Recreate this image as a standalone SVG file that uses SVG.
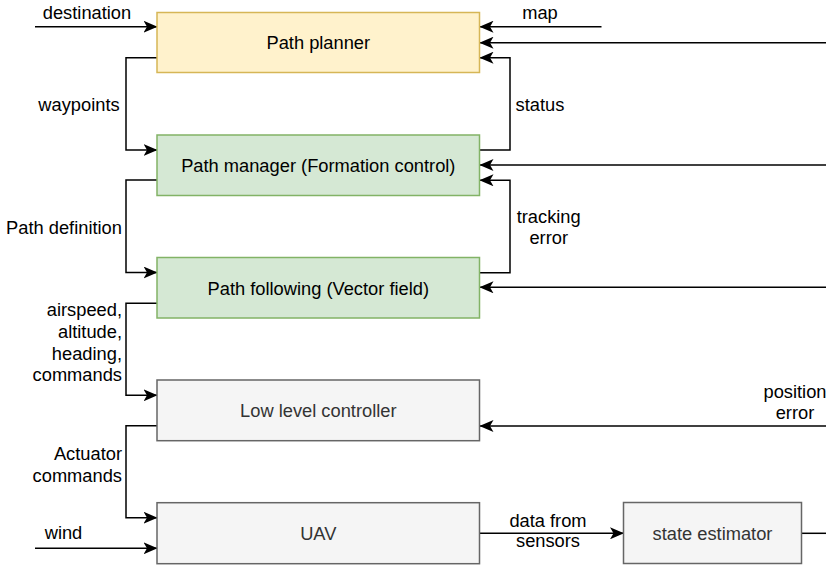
<svg xmlns="http://www.w3.org/2000/svg" width="826" height="567" viewBox="0 0 826 567">
<style>
text{font-family:"Liberation Sans",Arial,Helvetica,sans-serif;font-size:18.3px;fill:#000}
.n text{text-anchor:middle}
.yellow rect{fill:#fff2cc;stroke:#d6b656;stroke-width:1.5}
.green rect{fill:#d5e8d4;stroke:#82b366;stroke-width:1.5}
.gray rect{fill:#f5f5f5;stroke:#666666;stroke-width:1.5}
.gray text{fill:#333333}
#edges path{fill:none;stroke:#000;stroke-width:1.5}
#edges path.a{marker-end:url(#arr)}
.m{text-anchor:middle}
.e{text-anchor:end}
</style>
<defs>
<marker id="arr" viewBox="0 0 14 12" markerWidth="14" markerHeight="12" refX="13.5" refY="6" orient="auto" markerUnits="userSpaceOnUse">
<path d="M0,0 L14,6 L0,12 L3.5,6 Z" fill="#000"/>
</marker>
</defs>
<g id="edges">
<path class="a" d="M35,26.7 H157"/>
<path class="a" d="M601.5,26.7 H480"/>
<path class="a" d="M826,42.7 H480"/>
<path class="a" d="M480,150 H510 V57.7 H480"/>
<path class="a" d="M826,165 H480"/>
<path class="a" d="M480,272.7 H510 V180.3 H480"/>
<path class="a" d="M826,287.3 H480"/>
<path class="a" d="M157,57.7 H126 V150 H157"/>
<path class="a" d="M157,180 H126 V272.5 H157"/>
<path class="a" d="M157,303.3 H126 V395.3 H157"/>
<path class="a" d="M157,425.7 H126 V517.7 H157"/>
<path class="a" d="M35,548.3 H157"/>
<path class="a" d="M826,426 H480"/>
<path class="a" d="M480,533.3 H623.5"/>
<path d="M801.5,533.3 H826"/>
<text class="m" x="87" y="19">destination</text>
<text class="m" x="540" y="19">map</text>
<text x="515.5" y="111">status</text>
<text class="m" x="548.7" y="223">tracking</text>
<text class="m" x="548.7" y="243.5">error</text>
<text class="m" x="79" y="111">waypoints</text>
<text class="m" x="64" y="234.3">Path definition</text>
<text class="e" x="122" y="316">airspeed,</text>
<text class="e" x="122" y="338">altitude,</text>
<text class="e" x="122" y="359.5">heading,</text>
<text class="e" x="122" y="381">commands</text>
<text class="e" x="122" y="460.3">Actuator</text>
<text class="e" x="122" y="481.7">commands</text>
<text class="m" x="63.5" y="539.3">wind</text>
<text class="m" x="795" y="398">position</text>
<text class="m" x="795" y="419">error</text>
<text class="m" x="548" y="526.7">data from</text>
<text class="m" x="548" y="546.7">sensors</text>
</g>
<g id="path-planner" class="n yellow">
<rect x="157" y="12.5" width="322.5" height="60"/>
<text x="318.3" y="49">Path planner</text>
</g>
<g id="path-manager" class="n green">
<rect x="157" y="135" width="322.5" height="60.5"/>
<text x="318.3" y="171.5">Path manager (Formation control)</text>
</g>
<g id="path-following" class="n green">
<rect x="157" y="257.5" width="322.5" height="60.5"/>
<text x="318.3" y="294.5">Path following (Vector field)</text>
</g>
<g id="low-level-controller" class="n gray">
<rect x="157" y="380" width="322.5" height="60.7"/>
<text x="318.3" y="417">Low level controller</text>
</g>
<g id="uav" class="n gray">
<rect x="157" y="502.7" width="322.5" height="61"/>
<text x="318.3" y="539.5">UAV</text>
</g>
<g id="state-estimator" class="n gray">
<rect x="623.5" y="502.5" width="178" height="61"/>
<text x="712.5" y="540">state estimator</text>
</g>
</svg>
